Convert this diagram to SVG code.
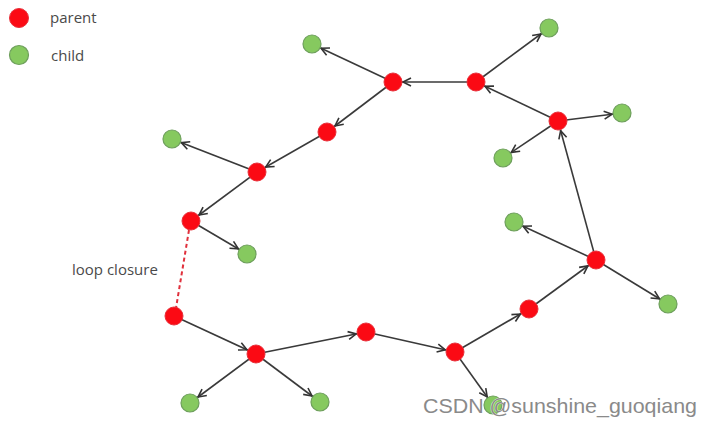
<svg xmlns="http://www.w3.org/2000/svg" width="713" height="427" viewBox="0 0 713 427">
<defs>
<marker id="ah" markerUnits="userSpaceOnUse" markerWidth="12" markerHeight="10" refX="19" refY="5" orient="auto" overflow="visible">
<path d="M1,1 L9,5 L1,9" fill="none" stroke="#333" stroke-width="1.6"/>
</marker>
<style>
.e{stroke:#3a3a3a;stroke-width:1.6;fill:none;marker-end:url(#ah)}
.p{fill:#fb0a14;stroke:#e8303a;stroke-width:1}
.c{fill:#86c95f;stroke:#6e9f5c;stroke-width:1.2}
.t{font-family:"Open Sans","Liberation Sans",sans-serif;font-size:15px;fill:#4a4a4a}
.w{font-family:"Liberation Sans",Arial,sans-serif;font-size:21px;fill:#8a8a8a;stroke:#fff;stroke-width:0.6;paint-order:stroke}
</style>
</defs>
<rect width="713" height="427" fill="#fff"/>
<g id="legend">
<circle class="p" cx="19" cy="18" r="9.5"/>
<text class="t" x="50" y="23">parent</text>
<circle class="c" cx="19" cy="55" r="9.5"/>
<text class="t" x="51" y="61">child</text>
</g>
<g id="connectors">
<line class="e" x1="393" y1="82" x2="312" y2="44"/>
<line class="e" x1="476" y1="82" x2="393" y2="82"/>
<line class="e" x1="476" y1="82" x2="549" y2="28"/>
<line class="e" x1="558" y1="121" x2="476" y2="82"/>
<line class="e" x1="558" y1="121" x2="622" y2="113"/>
<line class="e" x1="558" y1="121" x2="503" y2="158"/>
<line class="e" x1="596" y1="260" x2="558" y2="121"/>
<line class="e" x1="596" y1="260" x2="514" y2="222"/>
<line class="e" x1="596" y1="260" x2="668" y2="304"/>
<line class="e" x1="529" y1="309" x2="596" y2="260"/>
<line class="e" x1="455" y1="352" x2="529" y2="309"/>
<line class="e" x1="455" y1="352" x2="493" y2="405"/>
<line class="e" x1="366" y1="332" x2="455" y2="352"/>
<line class="e" x1="256" y1="354" x2="366" y2="332"/>
<line class="e" x1="256" y1="354" x2="190" y2="403"/>
<line class="e" x1="256" y1="354" x2="320" y2="402"/>
<line class="e" x1="174" y1="316" x2="256" y2="354"/>
<line class="e" x1="393" y1="82" x2="327" y2="132"/>
<line class="e" x1="327" y1="132" x2="257" y2="172"/>
<line class="e" x1="257" y1="172" x2="172" y2="139"/>
<line class="e" x1="257" y1="172" x2="191" y2="221"/>
<line class="e" x1="191" y1="221" x2="247" y2="254"/>
<line x1="189" y1="230" x2="176" y2="308" stroke="#e0303c" stroke-width="2" stroke-dasharray="4 3"/>
</g>
<g id="p1"><circle class="p" cx="393" cy="82" r="9"/></g>
<g id="p2"><circle class="p" cx="476" cy="82" r="9"/></g>
<g id="p3"><circle class="p" cx="558" cy="121" r="9"/></g>
<g id="p4"><circle class="p" cx="596" cy="260" r="9"/></g>
<g id="p5"><circle class="p" cx="529" cy="309" r="9"/></g>
<g id="p6"><circle class="p" cx="455" cy="352" r="9"/></g>
<g id="p7"><circle class="p" cx="366" cy="332" r="9"/></g>
<g id="p8"><circle class="p" cx="256" cy="354" r="9"/></g>
<g id="p9"><circle class="p" cx="174" cy="316" r="9"/></g>
<g id="p10"><circle class="p" cx="327" cy="132" r="9"/></g>
<g id="p11"><circle class="p" cx="257" cy="172" r="9"/></g>
<g id="p12"><circle class="p" cx="191" cy="221" r="9"/></g>
<g id="c1"><circle class="c" cx="312" cy="44" r="9"/></g>
<g id="c2"><circle class="c" cx="549" cy="28" r="9"/></g>
<g id="c3"><circle class="c" cx="622" cy="113" r="9"/></g>
<g id="c4"><circle class="c" cx="503" cy="158" r="9"/></g>
<g id="c5"><circle class="c" cx="514" cy="222" r="9"/></g>
<g id="c6"><circle class="c" cx="668" cy="304" r="9"/></g>
<g id="c7"><circle class="c" cx="493" cy="405" r="9"/></g>
<g id="c8"><circle class="c" cx="190" cy="403" r="9"/></g>
<g id="c9"><circle class="c" cx="320" cy="402" r="9"/></g>
<g id="c10"><circle class="c" cx="172" cy="139" r="9"/></g>
<g id="c11"><circle class="c" cx="247" cy="254" r="9"/></g>
<g id="loop-label"><text class="t" x="72" y="275">loop closure</text></g>
<g id="watermark"><text class="w" x="423" y="413" textLength="274" lengthAdjust="spacingAndGlyphs">CSDN @sunshine_guoqiang</text></g>
</svg>
